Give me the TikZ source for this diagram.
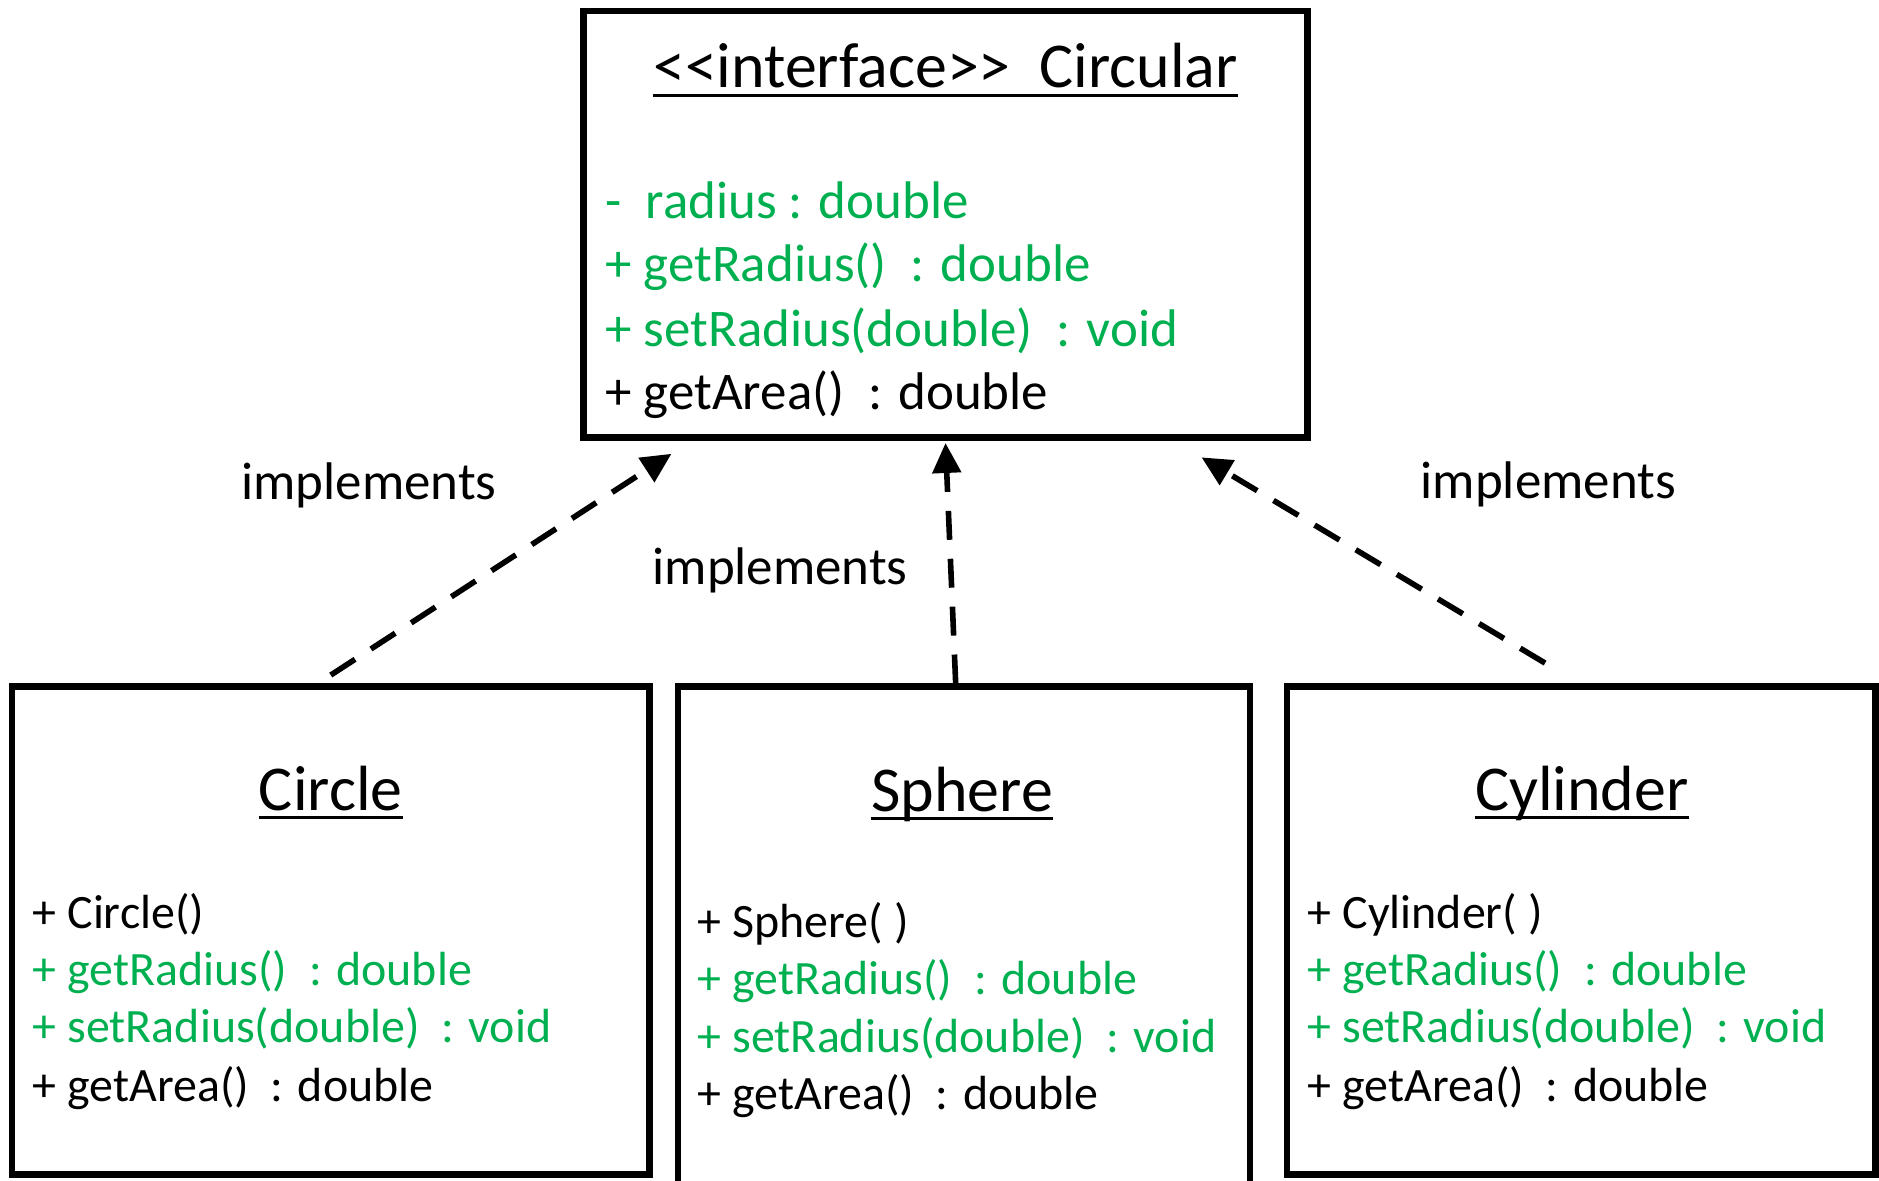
\documentclass[tikz,border=0pt]{standalone}
\usepackage{fontspec}
\setmainfont{Carlito}[Ligatures=TeXOff]
\usetikzlibrary{arrows.meta,calc,fit}
\definecolor{umlgreen}{RGB}{0,176,80}

\begin{document}
\begin{tikzpicture}[x=0.6pt,y=-0.6pt,
  classbox/.style={draw,line width=3.2pt,inner sep=0pt},
  classtitle/.style={inner sep=0pt,anchor=base,font=\fontsize{32}{38}\selectfont},
  topmember/.style={inner sep=0pt,anchor=base west,font=\fontsize{26.5}{32}\selectfont},
  member/.style={inner sep=0pt,anchor=base west,font=\fontsize{24}{29}\selectfont},
  inherited/.style={text=umlgreen},
  rellabel/.style={inner sep=0pt,anchor=base,font=\fontsize{26.5}{32}\selectfont},
  impl/.style={line width=2.8pt,dash pattern=on 14.5pt off 9.5pt,
    -{Triangle[length=15pt,width=14pt]}},
  uline/.style={line width=1.6pt}
]
\path[use as bounding box] (0,0) rectangle (1568,985.5);
\clip (0,0) rectangle (1568,985.5);

% class boxes
\node[classbox,fit={(487,9) (1091,365)}] (circular) {};
\node[classbox,fit={(10,573) (542,980)}] (circle) {};
\node[classbox,fit={(566,573) (1043,1020)}] (sphere) {};
\node[classbox,fit={(1074,573) (1565,980)}] (cylinder) {};

% interface
\node[classtitle] (tcircular) at (789,73) {<<interface>>\ \ Circular};
\draw[uline] ($(tcircular.base west)+(0,7)$) -- ($(tcircular.base east)+(0,7)$);
\node[topmember,inherited] (ia) at (505,182) {-\ \ radius : double};
\node[topmember,inherited] (ib) at (505,235) {+ getRadius()\ \ : double};
\node[topmember,inherited] (ic) at (505,289) {+ setRadius(double)\ \ : void};
\node[topmember] (id) at (505,342) {+ getArea()\ \ : double};

% Circle
\node[classtitle] (tcircle) at (276,676) {Circle};
\draw[uline] ($(tcircle.base west)+(0,6)$) -- ($(tcircle.base east)+(0,6)$);
\node[member] (ca) at (27,775) {+ Circle()};
\node[member,inherited] (cb) at (27,822) {+ getRadius()\ \ : double};
\node[member,inherited] (cc) at (27,870) {+ setRadius(double)\ \ : void};
\node[member] (cd) at (27,919) {+ getArea()\ \ : double};

% Sphere
\node[classtitle] (tsphere) at (803,677) {Sphere};
\draw[uline] ($(tsphere.base west)+(0,6)$) -- ($(tsphere.base east)+(0,6)$);
\node[member] (sa) at (582,782) {+ Sphere( )};
\node[member,inherited] (sb) at (582,830) {+ getRadius()\ \ : double};
\node[member,inherited] (sc) at (582,878) {+ setRadius(double)\ \ : void};
\node[member] (sd) at (582,926) {+ getArea()\ \ : double};

% Cylinder
\node[classtitle] (tcylinder) at (1320,676) {Cylinder};
\draw[uline] ($(tcylinder.base west)+(0,6)$) -- ($(tcylinder.base east)+(0,6)$);
\node[member] (ya) at (1091,775) {+ Cylinder( )};
\node[member,inherited] (yb) at (1091,822) {+ getRadius()\ \ : double};
\node[member,inherited] (yc) at (1091,870) {+ setRadius(double)\ \ : void};
\node[member] (yd) at (1091,919) {+ getArea()\ \ : double};

% realization arrows
\draw[impl] ($(circle.north)+(0,-7)$) -- ($(circular.south west)+(76,11)$);
\draw[impl] ($(sphere.north)+(-7,0)$) -- ($(circular.south)+(0,2)$);
\draw[impl] ($(cylinder.north west)+(218,-17)$) -- ($(circular.south east)+(-91,14)$);

\node[rellabel] (l1) at (308,417) {implements};
\node[rellabel] (l2) at (651,488) {implements};
\node[rellabel] (l3) at (1292,416) {implements};
\end{tikzpicture}
\end{document}
